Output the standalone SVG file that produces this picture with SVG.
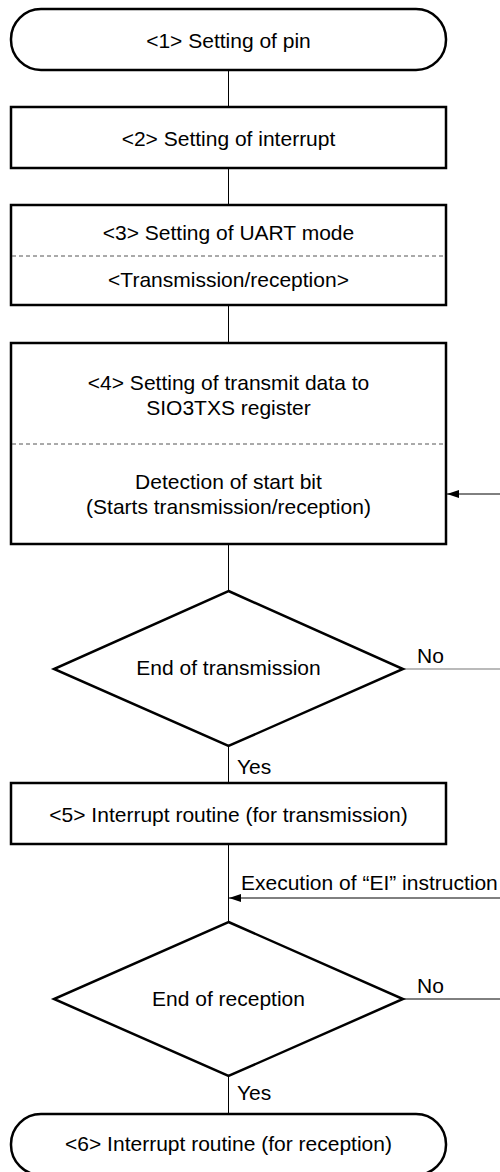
<svg xmlns="http://www.w3.org/2000/svg" width="500" height="1172" viewBox="0 0 500 1172">
<defs>
<style>
.n{fill:#fff;stroke:#000;stroke-width:2.5}
.d{stroke:#555;stroke-width:1;stroke-dasharray:4,3;fill:none}
.c{stroke:#000;stroke-width:1;fill:none}
.g{stroke:#777;stroke-width:1.2;fill:none}
text{font-family:"Liberation Sans",Arial,sans-serif;font-size:21px;fill:#000}
.m{text-anchor:middle}
</style>
<marker id="ah" viewBox="0 0 12 8" refX="12" refY="4" markerWidth="12" markerHeight="8" markerUnits="userSpaceOnUse" orient="auto">
<path d="M0,0 L12,4 L0,8 Z" fill="#000"/>
</marker>
</defs>
<rect width="500" height="1172" fill="#fff"/>
<g id="connectors">
<line class="c" x1="228.5" y1="70" x2="228.5" y2="107"/>
<line class="c" x1="228.5" y1="168" x2="228.5" y2="205"/>
<line class="c" x1="228.5" y1="305" x2="228.5" y2="343"/>
<line class="c" x1="228.5" y1="544" x2="228.5" y2="591"/>
<line class="c" x1="228.5" y1="746" x2="228.5" y2="783"/>
<line class="c" x1="228.5" y1="844" x2="228.5" y2="922"/>
<line class="c" x1="228.5" y1="1076" x2="228.5" y2="1114"/>
<line class="g" x1="403" y1="669" x2="500" y2="669"/>
<line class="c" x1="403" y1="999" x2="500" y2="999"/>
<line class="c" x1="500" y1="494" x2="447" y2="494" marker-end="url(#ah)"/>
<line class="c" x1="500" y1="898" x2="229" y2="898" marker-end="url(#ah)"/>
<text x="417" y="663">No</text>
<text x="237" y="774">Yes</text>
<text x="241" y="890">Execution of “EI” instruction</text>
<text x="417" y="993">No</text>
<text x="237" y="1100">Yes</text>
</g>
<g id="n1">
<rect class="n" x="11" y="9" width="435" height="61" rx="30" ry="30"/>
<text class="m" x="228.5" y="48">&lt;1&gt; Setting of pin</text>
</g>
<g id="n2">
<rect class="n" x="11" y="107" width="435" height="61"/>
<text class="m" x="228.5" y="146">&lt;2&gt; Setting of interrupt</text>
</g>
<g id="n3">
<rect class="n" x="11" y="205" width="435" height="100"/>
<line class="d" x1="12" y1="256" x2="445" y2="256"/>
<text class="m" x="228.5" y="240">&lt;3&gt; Setting of UART mode</text>
<text class="m" x="228.5" y="287">&lt;Transmission/reception&gt;</text>
</g>
<g id="n4">
<rect class="n" x="11" y="343" width="435" height="201"/>
<line class="d" x1="12" y1="444" x2="445" y2="444"/>
<text class="m" x="228.5" y="390">&lt;4&gt; Setting of transmit data to</text>
<text class="m" x="228.5" y="415">SIO3TXS register</text>
<text class="m" x="228.5" y="489">Detection of start bit</text>
<text class="m" x="228.5" y="514">(Starts transmission/reception)</text>
</g>
<g id="n5">
<polygon class="n" points="228.5,591 403,669 228.5,746 54,669"/>
<text class="m" x="228.5" y="675">End of transmission</text>
</g>
<g id="n6">
<rect class="n" x="11" y="783" width="435" height="61"/>
<text class="m" x="228.5" y="822">&lt;5&gt; Interrupt routine (for transmission)</text>
</g>
<g id="n7">
<polygon class="n" points="228.5,922 403,999 228.5,1076 54,999"/>
<text class="m" x="228.5" y="1006">End of reception</text>
</g>
<g id="n8">
<rect class="n" x="11" y="1114" width="435" height="61" rx="30" ry="30"/>
<text class="m" x="228.5" y="1151">&lt;6&gt; Interrupt routine (for reception)</text>
</g>
</svg>
